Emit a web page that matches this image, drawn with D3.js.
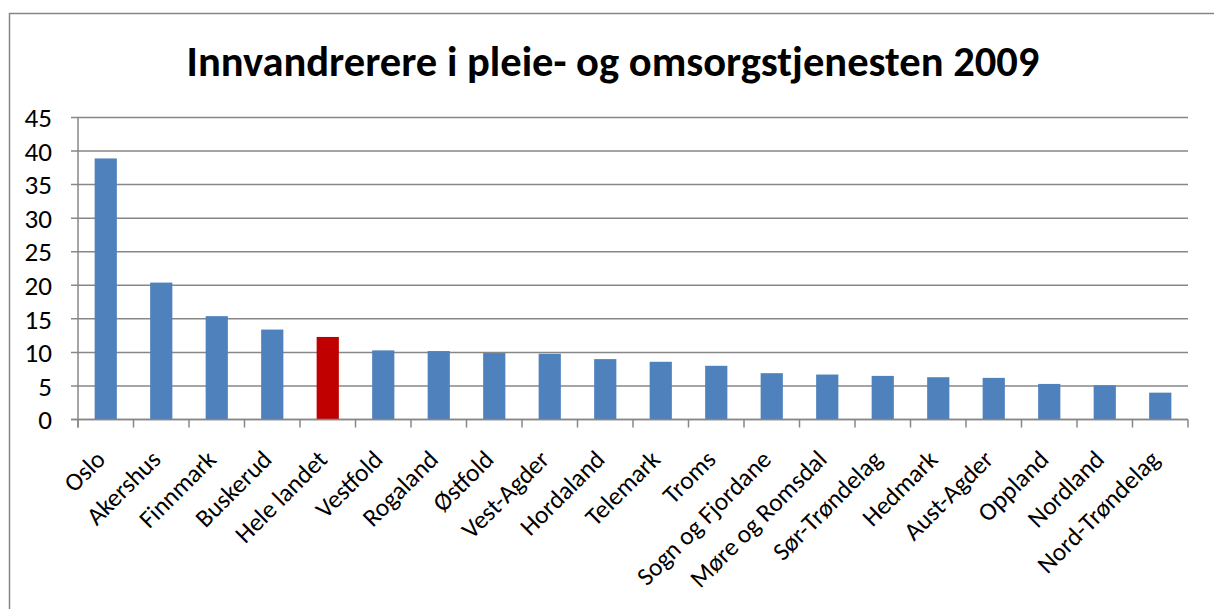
<!DOCTYPE html>
<html>
<head>
<meta charset="utf-8">
<script src="https://cdn.jsdelivr.net/npm/d3@7"></script>
<style>
  body { margin: 0; background: #fff; }
  text { font-family: Calibri, Carlito, Lato, sans-serif; fill: #000; }
</style>
</head>
<body>
<div id="chart"></div>
<script>
// data
const fylker = ["Oslo", "Akershus", "Finnmark", "Buskerud", "Hele landet", "Vestfold",
  "Rogaland", "Østfold", "Vest-Agder", "Hordaland", "Telemark", "Troms",
  "Sogn og Fjordane", "Møre og Romsdal", "Sør-Trøndelag", "Hedmark",
  "Aust-Agder", "Oppland", "Nordland", "Nord-Trøndelag"];
const andel = [38.9, 20.4, 15.4, 13.4, 12.3, 10.3, 10.2, 9.9, 9.8, 9.0, 8.6, 8.0,
  6.9, 6.7, 6.5, 6.3, 6.2, 5.3, 5.1, 4.0];
const yTicks = [0, 5, 10, 15, 20, 25, 30, 35, 40, 45];
const tittel = "Innvandrerere i pleie- og omsorgstjenesten 2009";

let width = 1214, height = 609;
let plotLeft = 78, plotRight = 1188, plotTop = 117.5, plotBottom = 419.5;

let svg = d3.select("#chart")
    .append("svg")
    .attr("width", width)
    .attr("height", height);

// chart frame (runs off the right and bottom of the picture)
svg.append("rect")
    .attr("x", 9.5).attr("y", 13.5)
    .attr("width", 1300).attr("height", 700)
    .attr("fill", "none")
    .attr("stroke", "#868686")
    .attr("stroke-width", 1.5);

let x = d3.scaleBand()
    .domain(fylker)
    .range([plotLeft, plotRight])
    .paddingInner(0.6)
    .paddingOuter(0.3);

let y = d3.scaleLinear()
    .domain([0, 45])
    .range([plotBottom, plotTop]);

// pick a label size so the longest name is as long as in the picture
let probe = svg.append("text").attr("font-size", 20).text("Nord-Trøndelag");
let labelSize = 20 * 161 / probe.node().getComputedTextLength();
probe.remove();

// gridlines
svg.append("g")
    .selectAll("line")
    .data(yTicks)
    .enter()
    .append("line")
    .attr("x1", plotLeft - 7)
    .attr("x2", plotRight)
    .attr("y1", function(d) { return y(d); })
    .attr("y2", function(d) { return y(d); })
    .attr("stroke", "#878787")
    .attr("stroke-width", 1.5);

// y labels
svg.append("g")
    .selectAll("text")
    .data(yTicks)
    .enter()
    .append("text")
    .attr("x", 52)
    .attr("y", function(d) { return y(d); })
    .attr("dy", "0.36em")
    .attr("text-anchor", "end")
    .attr("font-size", labelSize * 1.07)
    .text(function(d) { return d; });

// y axis line
svg.append("line")
    .attr("x1", plotLeft).attr("x2", plotLeft)
    .attr("y1", plotTop).attr("y2", plotBottom + 8)
    .attr("stroke", "#878787")
    .attr("stroke-width", 1.5);

// x tick marks at band edges
let edges = fylker.map(function(f) { return x(f) - x.step() * x.paddingInner() / 2; });
edges.push(plotRight);
svg.append("g")
    .selectAll("line")
    .data(edges)
    .enter()
    .append("line")
    .attr("x1", function(d) { return d; })
    .attr("x2", function(d) { return d; })
    .attr("y1", plotBottom)
    .attr("y2", plotBottom + 8)
    .attr("stroke", "#878787")
    .attr("stroke-width", 1.5);

// bars
svg.append("g")
    .selectAll("rect")
    .data(fylker)
    .enter()
    .append("rect")
    .attr("x", function(d) { return x(d); })
    .attr("width", x.bandwidth())
    .attr("y", function(d, i) { return y(andel[i]); })
    .attr("height", function(d, i) { return y(0) - y(andel[i]); })
    .attr("fill", function(d) { return d == "Hele landet" ? "#C00000" : "#4F81BD"; });

// x axis line over the bars
svg.append("line")
    .attr("x1", plotLeft - 7).attr("x2", plotRight)
    .attr("y1", plotBottom).attr("y2", plotBottom)
    .attr("stroke", "#878787")
    .attr("stroke-width", 1.5);

// rotated category labels
svg.append("g")
    .selectAll("text")
    .data(fylker)
    .enter()
    .append("text")
    .attr("text-anchor", "end")
    .attr("font-size", labelSize)
    .attr("transform", function(d) {
        let cx = x(d) + x.bandwidth() / 2 + 1;
        return "translate(" + cx + "," + 461 + ") rotate(-45)";
    })
    .text(function(d) { return d; });

// title, sized to the reference width
let t = svg.append("text")
    .attr("x", 613)
    .attr("y", 76)
    .attr("text-anchor", "middle")
    .attr("font-size", 36)
    .attr("font-weight", "bold")
    .text(tittel);
let tw = t.node().getComputedTextLength();
t.attr("font-size", 36 * 853 / tw);
</script>
</body>
</html>
